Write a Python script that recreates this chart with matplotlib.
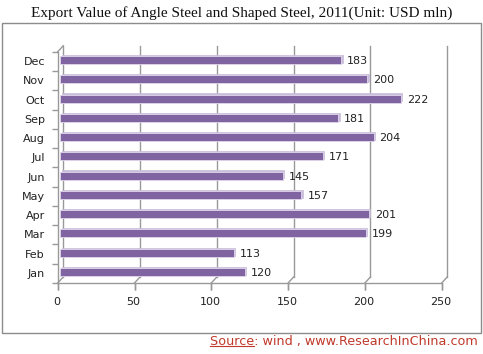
import matplotlib.pyplot as plt
import matplotlib.transforms as mtransforms
from matplotlib.patches import Rectangle

months = ['Jan', 'Feb', 'Mar', 'Apr', 'May', 'Jun', 'Jul', 'Aug', 'Sep', 'Oct', 'Nov', 'Dec']
values = [120, 113, 199, 201, 157, 145, 171, 204, 181, 222, 200, 183]
xticks = [0, 50, 100, 150, 200, 250]

W, H = 483, 354
fig = plt.figure(figsize=(W / 100, H / 100), dpi=100)

# outer frame
fig.patches.append(Rectangle((2 / W, 1 - 333 / H), 479 / W, 310 / H, transform=fig.transFigure,
                             fill=False, edgecolor='#8c8c8c', linewidth=1))

fig.text(0.5, 1 - 13 / H, 'Export Value of Angle Steel and Shaped Steel, 2011(Unit: USD mln)',
         ha='center', va='center', fontsize=11, family='Liberation Serif', color='#111111')

# plot area: front face, x 0..250, bottom at y=283px
ax = fig.add_axes([57.7 / W, 1 - 283 / H, 384 / W, 237 / H])
ax.set_xlim(0, 250)
ymin, ytop = -0.571, 11.43
ax.set_ylim(ymin, 11.73)
ax.axis('off')

def off(dx, dy):
    return mtransforms.offset_copy(ax.transData, fig=fig, x=dx, y=dy, units='dots')

back = off(5.5, 6)
grid_c = '#999999'

# back wall gridlines and floor diagonals
for v in xticks:
    ax.plot([v, v], [ymin, ytop], color=grid_c, lw=1, transform=back, clip_on=False)
    ax.plot([v, v + 5.5 / 1.536], [ymin, ymin + 6 / 19.27], color=grid_c, lw=1, clip_on=False)

# front x axis with ticks
ax.plot([0, 250], [ymin, ymin], color=grid_c, lw=1, clip_on=False)
for v in xticks:
    ax.plot([v, v], [ymin, ymin], color=grid_c, lw=1, clip_on=False,
            marker=3, markersize=5, markeredgewidth=1)
    ax.text(v, ymin, str(v), transform=off(-1, -19), ha='center', va='center',
            fontsize=8, color='#222222')

# left wall axis with category ticks
ax.plot([0, 0], [ymin, ytop], color=grid_c, lw=1, clip_on=False)
ax.plot([0, 5.5 / 1.536], [ytop, ytop + 6 / 19.27], color=grid_c, lw=1, clip_on=False)
for i in range(-1, 12):
    ax.plot([0], [i + 0.43], color=grid_c, marker=0, markersize=4, markeredgewidth=1, clip_on=False)

# bars with a light depth face behind them
ypos = list(range(len(months)))
ax.barh(ypos, values, height=0.415, left=0, color='#c9bddb', edgecolor='#c9bddb',
        linewidth=0.5, transform=off(3.8, 1.2), zorder=3)
ax.barh(ypos, values, height=0.415, left=0, color='#8064a2', edgecolor='#e0d8eb',
        linewidth=0.6, transform=off(2.5, 0), zorder=4)

for y, v in zip(ypos, values):
    ax.text(v, y, str(v), transform=off(8.5, -1), ha='left', va='center',
            fontsize=8, color='#222222', zorder=5)

for y, m in zip(ypos, months):
    ax.text(0, y, m, transform=off(-12.7, -2), ha='right', va='center',
            fontsize=8, color='#222222')

# source line, with "Source" underlined
src = fig.text(478 / W, 1 - 341 / H, 'Source: wind , www.ResearchInChina.com', ha='right', va='center',
               fontsize=9.2, color='#c0392b')
fig.canvas.draw()
r = fig.canvas.get_renderer()
bb = src.get_window_extent(r)
probe = fig.text(bb.x0 / W, bb.y0 / H, 'Source', ha='left', va='bottom', fontsize=9.2, alpha=0)
pb = probe.get_window_extent(r)
fig.add_artist(plt.Line2D([pb.x0 / W, pb.x1 / W], [(pb.y0 + 2) / H, (pb.y0 + 2) / H],
                          transform=fig.transFigure, color='#c0392b', lw=0.8))

fig.savefig('out.png', dpi=100)
